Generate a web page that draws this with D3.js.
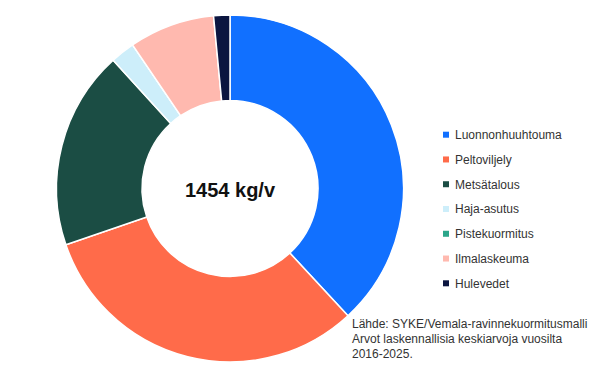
<!DOCTYPE html>
<html><head><meta charset="utf-8">
<script src="https://cdn.jsdelivr.net/npm/d3@7"></script>
<style>body{margin:0;background:#fff}svg{display:block}</style>
</head><body>
<script>
const categories = ["Luonnonhuuhtouma","Peltoviljely","Metsätalous","Haja-asutus","Pistekuormitus","Ilmalaskeuma","Hulevedet"];
const values = [554, 460, 269, 33, 0, 116, 22];
const colors = ["#1170FF","#FF6B4A","#1B4D44","#CDEEFA","#2BA68A","#FFB9AF","#0B1540"];
const centerLabel = "1454 kg/v";
const sourceLines = ["Lähde: SYKE/Vemala-ravinnekuormitusmalli","Arvot laskennallisia keskiarvoja vuosilta","2016-2025."];

const W = 600, H = 379;
const svg = d3.select("body").append("svg").attr("width", W).attr("height", H);
const cx = 230, cy = 188.5, R = 173.5, r = 88;
const pie = d3.pie().sort(null).value(d => d)(values);
const arc = d3.arc().innerRadius(r).outerRadius(R);
const color = d3.scaleOrdinal().domain(categories).range(colors);
const g = svg.append("g").attr("transform", `translate(${cx},${cy})`);
g.selectAll("path").data(pie).join("path")
  .attr("d", arc)
  .attr("fill", (d,i) => color(categories[i]))
  .attr("stroke", "#fff").attr("stroke-width", 1.5).attr("stroke-linejoin","round");
g.append("text").attr("text-anchor","middle").attr("y", 8)
  .attr("font-family","'Liberation Sans', Arial, sans-serif").attr("font-weight","bold")
  .attr("font-size", 20).attr("fill","#111").text(centerLabel);

const ly = d3.scalePoint().domain(categories).range([134.7, 283.3]);
const leg = svg.append("g");
const items = leg.selectAll("g").data(categories).join("g")
  .attr("transform", d => `translate(446,${ly(d)})`);
items.append("rect").attr("x",-3).attr("y",-3).attr("width",6).attr("height",6).attr("fill", d => color(d));
items.append("text").attr("x", 9).attr("y", 4.3)
  .attr("font-family","'Liberation Sans', Arial, sans-serif").attr("font-size", 12).attr("fill","#333").text(d => d);

svg.append("g").selectAll("text").data(sourceLines).join("text")
  .attr("x", 352).attr("y", (d,i) => 327.5 + i*15)
  .attr("font-family","'Liberation Sans', Arial, sans-serif").attr("font-size", 12).attr("fill","#333").text(d => d);
</script>
</body></html>
